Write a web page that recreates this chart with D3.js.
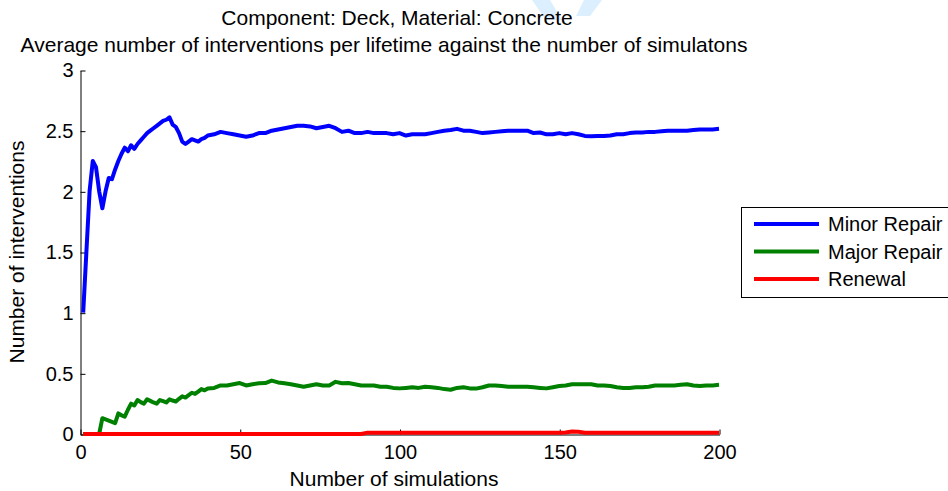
<!DOCTYPE html>
<html>
<head>
<meta charset="utf-8">
<script src="https://cdn.jsdelivr.net/npm/d3@7"></script>
<style>
  body { margin: 0; background: #fff; }
  svg { display: block; font-family: "Liberation Sans", Arial, Helvetica, sans-serif; }
</style>
</head>
<body>
<div id="chart"></div>
<script>
// number of simulations (x values)
const sims = [1,2,3,4,5,6,7,8,9,10,11,12,13,14,15,16,17,18,19,20,
  21,22,23,24,25,26,27,28,29,30,31,32,33,34,35,36,37,38,39,40,
  42,44,46,48,50,52,54,56,58,60,62,64,66,68,70,72,74,76,78,80,
  82,84,86,88,90,92,94,96,98,100,102,104,106,108,110,112,114,116,118,120,
  122,124,126,128,130,132,134,136,138,140,142,144,146,148,150,152,154,156,158,160,
  162,164,166,168,170,172,174,176,178,180,182,184,186,188,190,192,194,196,198,200];

const minorRepair = [1.00,1.50,2.00,2.25,2.20,2.00,1.86,2.00,2.11,2.10,
  2.18,2.25,2.31,2.36,2.33,2.38,2.35,2.39,2.42,2.45,
  2.48,2.50,2.52,2.54,2.56,2.58,2.59,2.61,2.55,2.53,
  2.48,2.41,2.39,2.41,2.43,2.42,2.41,2.43,2.44,2.46,
  2.47,2.49,2.48,2.47,2.46,2.45,2.46,2.48,2.48,2.50,
  2.51,2.52,2.53,2.54,2.54,2.535,2.52,2.53,2.54,2.52,
  2.49,2.50,2.48,2.48,2.49,2.48,2.48,2.48,2.47,2.48,
  2.46,2.47,2.47,2.47,2.48,2.49,2.50,2.505,2.515,2.50,
  2.50,2.49,2.48,2.485,2.49,2.495,2.50,2.50,2.50,2.50,
  2.48,2.485,2.47,2.47,2.48,2.47,2.48,2.47,2.457,2.455,
  2.457,2.457,2.46,2.47,2.47,2.48,2.485,2.485,2.49,2.49,
  2.495,2.50,2.50,2.50,2.50,2.505,2.51,2.51,2.51,2.515];

const majorRepair = [0,0,0,0,0,0,0.13,0.12,0.11,0.10,
  0.09,0.17,0.154,0.143,0.20,0.25,0.235,0.28,0.263,0.25,
  0.286,0.273,0.26,0.25,0.28,0.27,0.26,0.286,0.276,0.267,
  0.29,0.31,0.30,0.32,0.34,0.33,0.35,0.37,0.36,0.375,
  0.38,0.40,0.40,0.41,0.42,0.40,0.41,0.418,0.42,0.44,
  0.425,0.418,0.41,0.40,0.39,0.40,0.41,0.40,0.40,0.43,
  0.418,0.42,0.41,0.40,0.40,0.40,0.39,0.39,0.38,0.376,
  0.38,0.385,0.38,0.39,0.385,0.38,0.37,0.365,0.38,0.385,
  0.376,0.374,0.385,0.40,0.40,0.395,0.39,0.39,0.39,0.39,
  0.385,0.38,0.376,0.385,0.395,0.40,0.41,0.41,0.41,0.41,
  0.40,0.40,0.395,0.385,0.38,0.38,0.385,0.385,0.39,0.40,
  0.40,0.40,0.40,0.405,0.41,0.40,0.395,0.40,0.40,0.405];

const renewal = [0,0,0,0,0,0,0,0,0,0,
  0,0,0,0,0,0,0,0,0,0,
  0,0,0,0,0,0,0,0,0,0,
  0,0,0,0,0,0,0,0,0,0,
  0,0,0,0,0,0,0,0,0,0,
  0,0,0,0,0,0,0,0,0,0,
  0,0,0,0,0.011,0.011,0.011,0.011,0.011,0.011,
  0.011,0.011,0.011,0.011,0.011,0.011,0.011,0.011,0.011,0.011,
  0.011,0.011,0.011,0.011,0.011,0.011,0.011,0.011,0.011,0.011,
  0.011,0.011,0.011,0.011,0.011,0.012,0.02,0.018,0.011,0.011,
  0.011,0.011,0.011,0.011,0.011,0.011,0.011,0.011,0.011,0.011,
  0.011,0.011,0.011,0.011,0.011,0.011,0.011,0.011,0.011,0.011];

const seriesNames = ["Minor Repair", "Major Repair", "Renewal"];
const seriesColors = ["#0000ff", "#008000", "#ff0000"];
const xTicks = [0, 50, 100, 150, 200];
const yTicks = [0, 0.5, 1, 1.5, 2, 2.5, 3];
const titleLines = ["Component: Deck, Material: Concrete",
  "Average number of interventions per lifetime against the number of simulatons"];

const W = 948, H = 491;
const mg = { left: 80, right: 229, top: 70, bottom: 57 };

const svg = d3.select("#chart").append("svg")
  .attr("width", W)
  .attr("height", H);

const x = d3.scaleLinear().domain([0, 200]).range([mg.left, W - mg.right]);
const y = d3.scaleLinear().domain([0, 3]).range([H - mg.bottom, mg.top]);

// faint watermark at the top edge
svg.append("path")
  .attr("d", "M532,0 L550,0 L562,20 L546,20 Z M584,0 L602,0 L590,16 L576,16 Z")
  .style("fill", "#dcefff");

// axes, ticks pointing inward like matlab
const xAxis = svg.append("g")
  .attr("transform", `translate(0.5,${y(0) + 0.5})`)
  .call(d3.axisBottom(x).tickValues(xTicks).tickSize(-5).tickSizeOuter(0).tickPadding(10));

const yAxis = svg.append("g")
  .attr("transform", `translate(${x(0) + 0.5},0.5)`)
  .call(d3.axisLeft(y).tickValues(yTicks).tickSize(-5).tickSizeOuter(0).tickPadding(7)
    .tickFormat(d3.format("")));

[xAxis, yAxis].forEach(a => {
  a.selectAll("text").style("font-size", "20px").style("fill", "#000")
    .style("font-family", "inherit");
  a.selectAll("line, path").style("stroke", "#000");
});

// series lines
const data = [minorRepair, majorRepair, renewal];
const line = d3.line()
  .x((d, i) => x(sims[i]))
  .y(d => y(d));

svg.selectAll(".series")
  .data(data)
  .enter().append("path")
  .attr("class", "series")
  .attr("d", d => line(d))
  .style("fill", "none")
  .style("stroke", (d, i) => seriesColors[i])
  .style("stroke-width", 4)
  .style("stroke-linejoin", "round");

// titles (second line sits a bit left in the original)
svg.selectAll(".title")
  .data(titleLines)
  .enter().append("text")
  .attr("class", "title")
  .attr("x", (d, i) => i === 0 ? 397 : 384)
  .attr("y", (d, i) => 25 + i * 27)
  .attr("text-anchor", "middle")
  .style("font-size", "21px")
  .text(d => d);

// axis labels
svg.append("text")
  .attr("x", 394)
  .attr("y", 486)
  .attr("text-anchor", "middle")
  .style("font-size", "21px")
  .text("Number of simulations");

svg.append("text")
  .attr("transform", `translate(24,${(y(0) + y(3)) / 2}) rotate(-90)`)
  .attr("text-anchor", "middle")
  .style("font-size", "21px")
  .text("Number of interventions");

// legend
const lg = svg.append("g").attr("transform", "translate(741,207)");
lg.append("rect")
  .attr("x", 0.5).attr("y", 0.5)
  .attr("width", 230).attr("height", 90)
  .style("fill", "#fff")
  .style("stroke", "#000");

const rows = lg.selectAll(".row")
  .data(seriesNames)
  .enter().append("g")
  .attr("transform", (d, i) => `translate(0,${17 + i * 27.5})`);

rows.append("line")
  .attr("x1", 13).attr("x2", 78)
  .style("stroke", (d, i) => seriesColors[i])
  .style("stroke-width", 4);

rows.append("text")
  .attr("x", 87)
  .attr("dy", "0.35em")
  .style("font-size", "20px")
  .text(d => d);
</script>
</body>
</html>
